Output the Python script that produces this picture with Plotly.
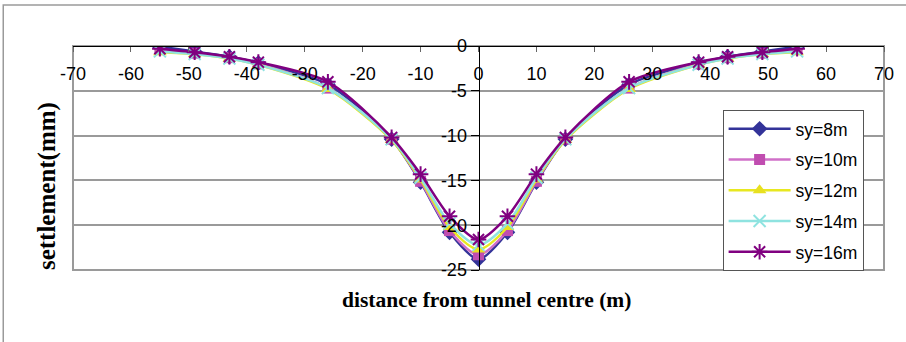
import plotly.graph_objects as go

# distance from tunnel centre (m)
distance = [-55, -49, -43, -38, -26, -15, -10, -5, 0, 5, 10, 15, 26, 38, 43, 49, 55]

# surface settlement (mm) for each sy value
sy8 = [-0.1, -0.6, -1.2, -1.9, -4.3, -10.4, -15.2, -20.8, -23.8, -20.8, -15.2, -10.4, -4.3, -1.9, -1.2, -0.6, -0.1]
sy10 = [-0.4, -0.8, -1.3, -2.0, -4.7, -10.4, -15.1, -20.6, -23.3, -20.6, -15.1, -10.4, -4.7, -2.0, -1.3, -0.8, -0.4]
sy12 = [-0.7, -0.9, -1.4, -2.1, -4.8, -10.5, -14.9, -20.2, -22.7, -20.2, -14.9, -10.5, -4.8, -2.1, -1.4, -0.9, -0.7]
sy14 = [-0.6, -0.9, -1.4, -2.1, -4.7, -10.4, -14.7, -19.8, -22.2, -19.8, -14.7, -10.4, -4.7, -2.1, -1.4, -0.9, -0.6]
sy16 = [-0.3, -0.7, -1.2, -1.8, -4.0, -10.2, -14.3, -19.0, -21.6, -19.0, -14.3, -10.2, -4.0, -1.8, -1.2, -0.7, -0.3]

series_names = ["sy=8m", "sy=10m", "sy=12m", "sy=14m", "sy=16m"]
series_values = [sy8, sy10, sy12, sy14, sy16]

# tick positions and labels (plain hyphen minus)
x_ticks = list(range(-70, 71, 10))
x_tick_labels = [str(v) for v in x_ticks]
y_ticks = [0, -5, -10, -15, -20, -25]
y_tick_labels = [str(v) for v in y_ticks]

styles = [
    dict(line="#333399", marker=dict(symbol="diamond", size=12, color="#333399")),
    dict(line="#D070C8", marker=dict(symbol="square", size=11, color="#C04DB0")),
    dict(line="#E8E820", marker=dict(symbol="triangle-up", size=12, color="#E8E020")),
    dict(line="#8FE3E0", marker=dict(symbol="x-thin-open", size=12, color="#8FE3E0",
                                     line=dict(width=2, color="#8FE3E0"))),
    dict(line="#800080", marker=dict(symbol="asterisk-open", size=13, color="#800080",
                                     line=dict(width=2, color="#800080"))),
]

fig = go.Figure()
for i, (name, vals, st) in enumerate(zip(series_names, series_values, styles)):
    fig.add_trace(go.Scatter(
        x=distance, y=vals, name=name, mode="lines+markers",
        line=dict(color=st["line"], width=2.5, shape="spline", smoothing=0.8),
        marker=st["marker"], legendgroup=f"g{i}",
    ))

tick_font = dict(family="Liberation Sans, Arial, sans-serif", size=18, color="black")
serif = "Liberation Serif, Times New Roman, serif"

fig.update_layout(
    width=906, height=342,
    margin=dict(l=73, r=22, t=46, b=72),
    paper_bgcolor="white", plot_bgcolor="white",
    font=tick_font,
    showlegend=True,
    legend=dict(
        x=0.801, y=0.715, xanchor="left", yanchor="top",
        bgcolor="white", bordercolor="#555555", borderwidth=1,
        font=dict(family="Liberation Sans, Arial, sans-serif", size=17.5, color="black"),
        tracegroupgap=5, itemwidth=62,
    ),
    # x axis drawn along the top edge (y = 0), labels hanging below the line
    xaxis=dict(
        range=[-70, 70], tickvals=x_ticks, ticktext=x_tick_labels,
        side="bottom", anchor="free", position=1,
        showline=True, linecolor="black", linewidth=1,
        ticks="outside", ticklen=5, tickcolor="#666666",
        ticklabelstandoff=6,
        showgrid=False, zeroline=False,
        tickfont=tick_font,
    ),
    # y axis drawn through x = 0
    yaxis=dict(
        range=[-25, 0], tickvals=y_ticks, ticktext=y_tick_labels,
        anchor="free", position=0.5,
        showline=True, linecolor="black", linewidth=1,
        ticks="outside", ticklen=8, tickcolor="black",
        showgrid=True, gridcolor="#9a9a9a", gridwidth=1.5,
        zeroline=False, tickfont=tick_font,
    ),
    shapes=[
        # plot area frame
        dict(type="rect", xref="paper", yref="paper", x0=0, y0=0, x1=1, y1=1,
             line=dict(color="#9a9a9a", width=2), layer="below"),
        # chart frame
        dict(type="rect", xref="paper", yref="paper", x0=-0.086, y0=-0.5, x1=1.2, y1=1.183,
             line=dict(color="#9a9a9a", width=1.5), layer="below"),
    ],
    annotations=[
        dict(text="<b>distance from tunnel centre (m)</b>", xref="paper", yref="paper",
             x=0.51, y=-0.135, xanchor="center", yanchor="middle", showarrow=False,
             font=dict(family=serif, size=21.5, color="black")),
        dict(text="<b>settlement(mm)</b>", xref="paper", yref="paper",
             x=-0.032, y=0.375, xanchor="center", yanchor="middle", showarrow=False, textangle=-90,
             font=dict(family=serif, size=25, color="black")),
    ],
)

fig.write_html("out.html")
